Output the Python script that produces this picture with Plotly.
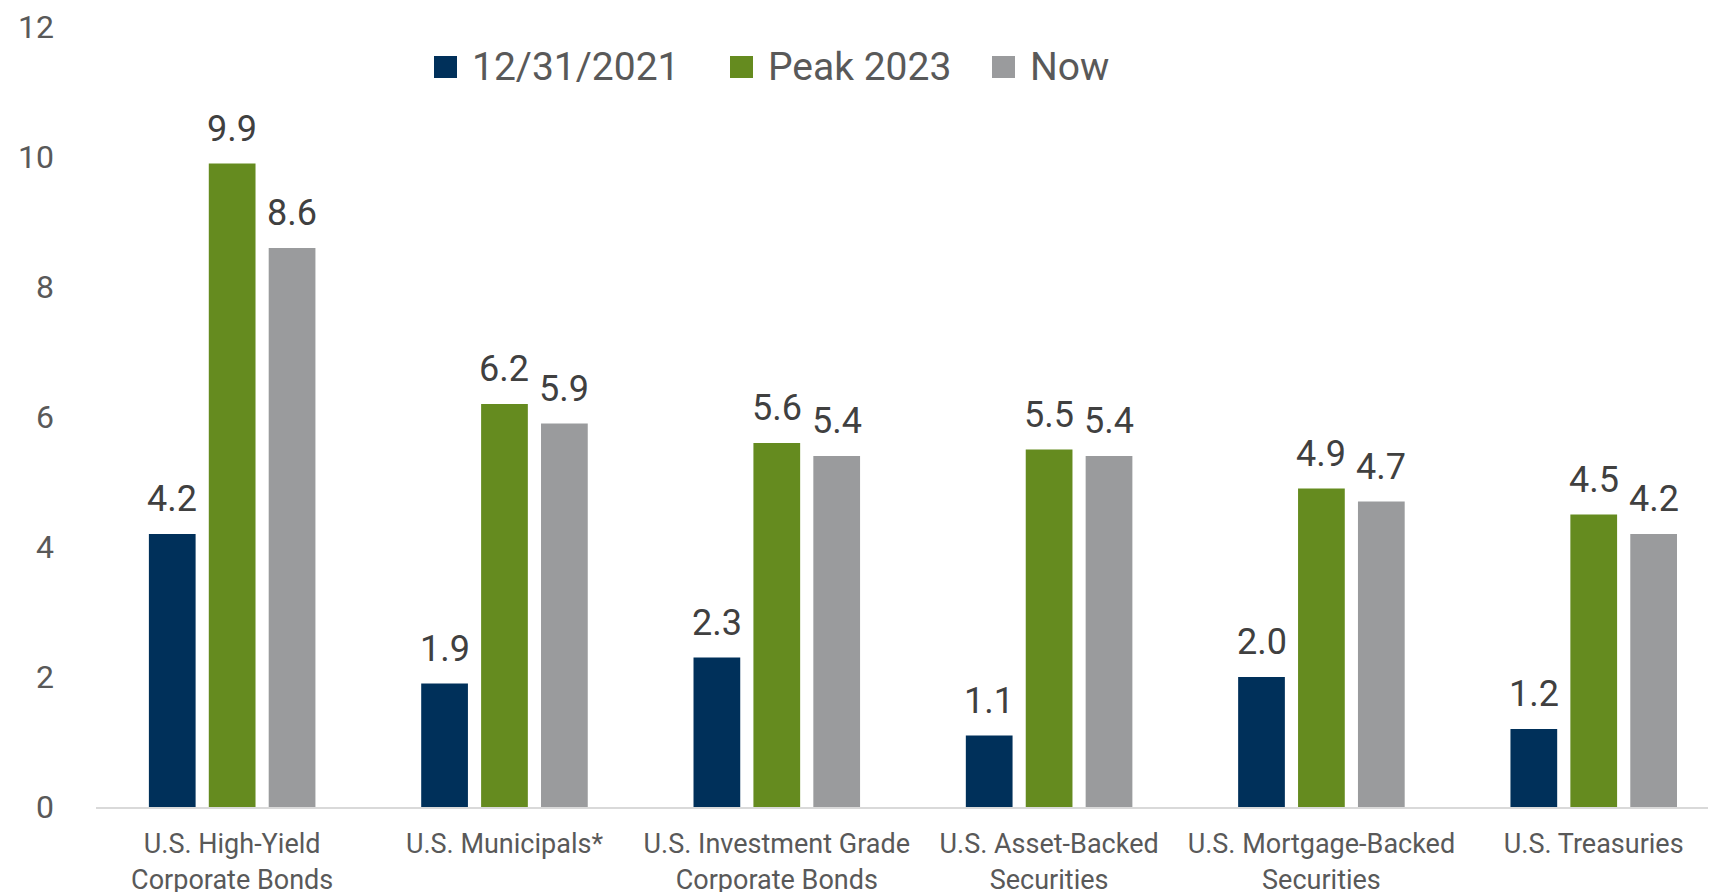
import plotly.graph_objects as go

categorias = [
    "U.S. High-Yield<br>Corporate Bonds",
    "U.S. Municipals*",
    "U.S. Investment Grade<br>Corporate Bonds",
    "U.S. Asset-Backed<br>Securities",
    "U.S. Mortgage-Backed<br>Securities",
    "U.S. Treasuries",
]
series_nomes = ["12/31/2021", "Peak 2023", "Now"]
valores_2021 = [4.2, 1.9, 2.3, 1.1, 2.0, 1.2]
valores_pico = [9.9, 6.2, 5.6, 5.5, 4.9, 4.5]
valores_agora = [8.6, 5.9, 5.4, 5.4, 4.7, 4.2]
y_ticks = [0, 2, 4, 6, 8, 10, 12]

CORES = ["#00305a", "#658b1f", "#9a9b9d"]
FONTE = "Roboto, Arial, sans-serif"
LARGURA, ALTURA = 1716, 892
# a página tem 8px de margem no body: o gráfico começa em (8, 8)
OFFSET = 8
MARGEM = dict(l=96 - OFFSET, r=OFFSET, t=27 - OFFSET, b=85 + OFFSET)
BARGAP = 0.34


def px_para_paper(px, py):
    """Converte pixels da tela para coordenadas 'paper' do plot."""
    px, py = px - OFFSET, py - OFFSET
    w = LARGURA - MARGEM["l"] - MARGEM["r"]
    h = ALTURA - MARGEM["t"] - MARGEM["b"]
    return (px - MARGEM["l"]) / w, (ALTURA - MARGEM["b"] - py) / h


fig = go.Figure()
todas_series = [valores_2021, valores_pico, valores_agora]
x_pos = list(range(len(categorias)))

for nome, valores, cor in zip(series_nomes, todas_series, CORES):
    fig.add_trace(go.Bar(
        name=nome,
        x=x_pos,
        y=valores,
        marker=dict(color=cor, line=dict(width=0)),
        showlegend=False,
        hoverinfo="y+name",
    ))

# rótulos de valor acima de cada barra
passo = (1 - BARGAP) / len(todas_series)
anotacoes = []
for k, valores in enumerate(todas_series):
    desloc = (k - (len(todas_series) - 1) / 2) * passo
    for i, v in enumerate(valores):
        anotacoes.append(dict(
            x=i + desloc, y=v, xref="x", yref="y",
            text=f"{v:.1f}", showarrow=False,
            xanchor="center", yanchor="bottom", yshift=12,
            font=dict(family=FONTE, size=36, color="#404040"),
        ))

# legenda manual (quadrados maiores que os da legenda padrão)
legenda_x = [434, 730, 992]
formas = []
for nome, cor, lx in zip(series_nomes, CORES, legenda_x):
    x0, y0 = px_para_paper(lx, 78)
    x1, y1 = px_para_paper(lx + 23, 56)
    formas.append(dict(type="rect", xref="paper", yref="paper",
                       x0=x0, y0=y0, x1=x1, y1=y1,
                       fillcolor=cor, line=dict(width=0)))
    tx, ty = px_para_paper(lx + 36, 67)
    anotacoes.append(dict(
        x=tx, y=ty, xref="paper", yref="paper", text=nome,
        showarrow=False, xanchor="left", yanchor="middle",
        font=dict(family=FONTE, size=39, color="#595959"),
    ))

fig.update_layout(
    width=LARGURA,
    height=ALTURA,
    margin=MARGEM,
    paper_bgcolor="white",
    plot_bgcolor="white",
    font=dict(family=FONTE, size=27, color="#595959"),
    barmode="group",
    bargap=BARGAP,
    bargroupgap=0.22,
    showlegend=False,
    annotations=anotacoes,
    shapes=formas,
    xaxis=dict(
        tickmode="array",
        tickvals=x_pos,
        ticktext=categorias,
        range=[-0.5, 5.449],
        showgrid=False,
        showline=True,
        linecolor="#d9d9d9",
        linewidth=2,
        ticks="",
        tickfont=dict(size=27, color="#595959"),
        ticklabelstandoff=12,
        automargin=False,
    ),
    yaxis=dict(
        range=[0, 12],
        tickvals=y_ticks,
        showgrid=False,
        zeroline=False,
        showline=False,
        ticks="",
        tickfont=dict(size=32, color="#595959"),
        ticklabelstandoff=41,
        automargin=False,
    ),
)

fig.write_html("out.html")
